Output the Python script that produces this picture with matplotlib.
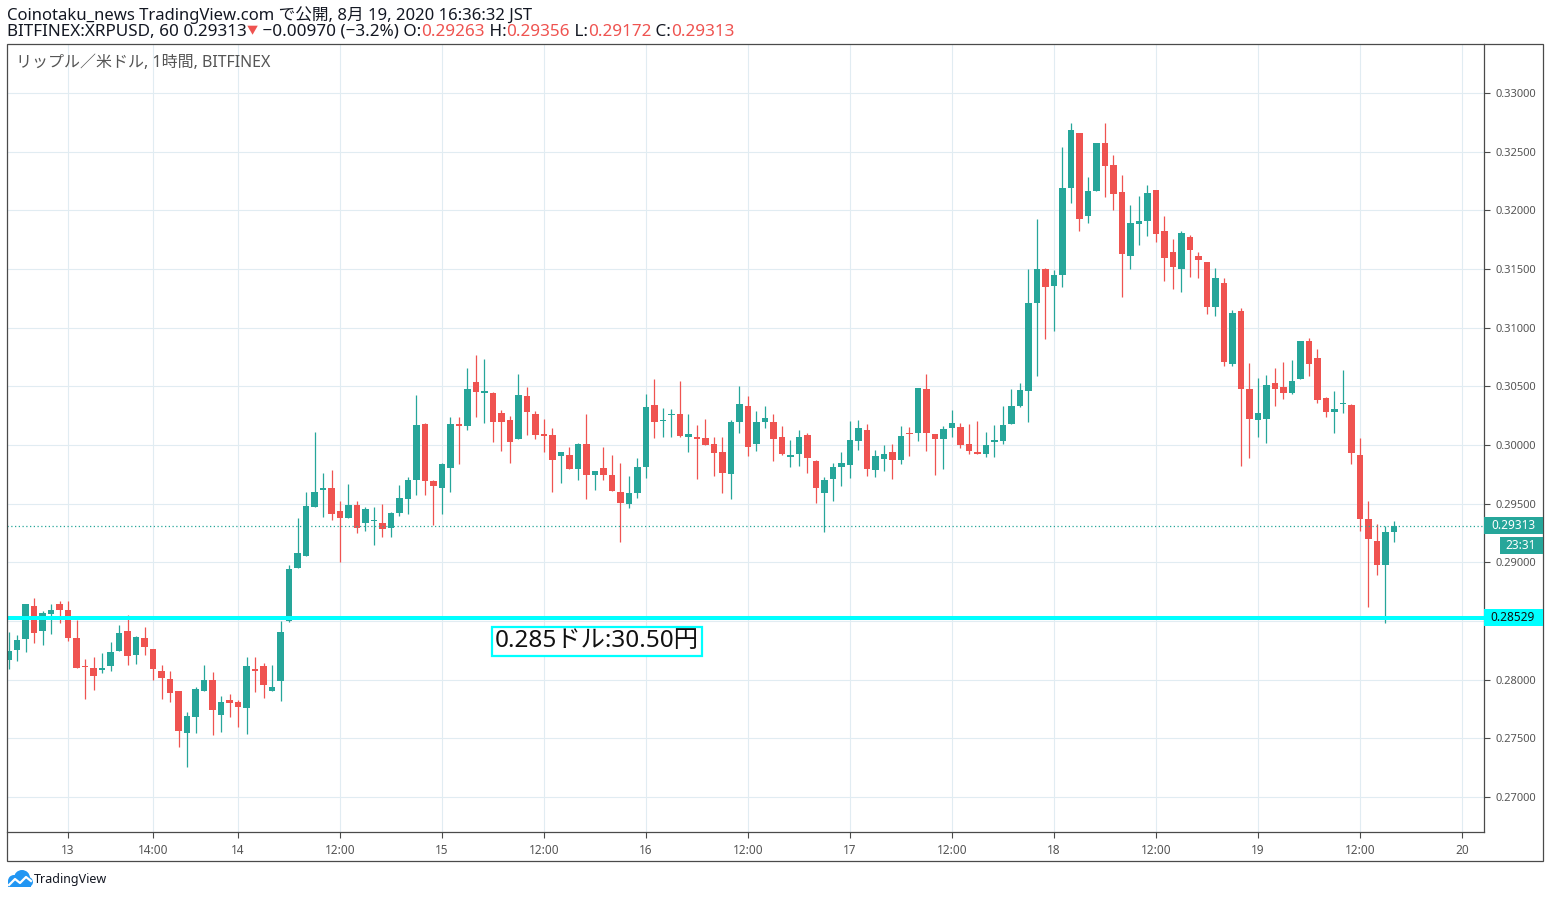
import numpy as np
import matplotlib
matplotlib.use("Agg")
import matplotlib.pyplot as plt
from matplotlib.patches import Rectangle, Circle
from matplotlib.ticker import FuncFormatter
from matplotlib.transforms import blended_transform_factory

plt.rcParams['font.family'] = ['Noto Sans', 'Noto Sans CJK JP', 'DejaVu Sans']

# XRP/USD 1h candles (Bitfinex), hour index 0 = the "13" axis label
first_hour = -7
opens = [
    0.28171, 0.28256, 0.28348, 0.28624, 0.28416, 0.28559, 0.28641, 0.28598, 0.28354, 0.28115,
    0.28101, 0.28079, 0.28121, 0.28247, 0.28413, 0.28213, 0.28354, 0.28261, 0.28076, 0.28008,
    0.27907, 0.27548, 0.27682, 0.27902, 0.28000, 0.27699, 0.27831, 0.27806, 0.27758, 0.28093,
    0.28118, 0.27902, 0.27986, 0.28500, 0.28956, 0.29058, 0.29472, 0.29615, 0.29630, 0.29435,
    0.29379, 0.29486, 0.29337, 0.29356, 0.29334, 0.29294, 0.29421, 0.29539, 0.29698, 0.30177,
    0.29697, 0.29632, 0.29803, 0.30177, 0.30162, 0.30536, 0.30444, 0.30442, 0.30271, 0.30211,
    0.30051, 0.30416, 0.30262, 0.30091, 0.30083, 0.29906, 0.29912, 0.29795, 0.30006, 0.29744,
    0.29801, 0.29741, 0.29604, 0.29496, 0.29590, 0.29812, 0.30345, 0.30202, 0.30254, 0.30268,
    0.30066, 0.30071, 0.30063, 0.30011, 0.29943, 0.29749, 0.30194, 0.30336, 0.30006, 0.30194,
    0.30199, 0.30071, 0.29895, 0.29920, 0.30088, 0.29866, 0.29587, 0.29707, 0.29809, 0.29826,
    0.30031, 0.30131, 0.29784, 0.29878, 0.29943, 0.29869, 0.30099, 0.30099, 0.30480, 0.30097,
    0.30048, 0.30142, 0.30156, 0.30011, 0.29943, 0.29920, 0.30023, 0.30031, 0.30176, 0.30330,
    0.30463, 0.31207, 0.31500, 0.31352, 0.31445, 0.32188, 0.32662, 0.31950, 0.32163, 0.32577,
    0.32390, 0.32160, 0.31610, 0.31882, 0.31908, 0.32177, 0.31820, 0.31641, 0.31499, 0.31777,
    0.31607, 0.31556, 0.31176, 0.31377, 0.30691, 0.31139, 0.30475, 0.30214, 0.30219, 0.30531,
    0.30497, 0.30446, 0.30565, 0.30889, 0.30744, 0.30403, 0.30278, 0.30347, 0.30344, 0.29918,
    0.29372, 0.29185, 0.28974, 0.29263,
]
highs = [
    0.28405, 0.28379, 0.28649, 0.28700, 0.28582, 0.28641, 0.28674, 0.28674, 0.28511, 0.28177,
    0.28194, 0.28228, 0.28320, 0.28464, 0.28548, 0.28371, 0.28447, 0.28261, 0.28126, 0.28076,
    0.27907, 0.27722, 0.27941, 0.28126, 0.28067, 0.27857, 0.27874, 0.27831, 0.28194, 0.28194,
    0.28143, 0.28126, 0.28500, 0.28979, 0.29376, 0.29596, 0.30111, 0.29765, 0.29790, 0.29520,
    0.29672, 0.29520, 0.29475, 0.29469, 0.29494, 0.29427, 0.29663, 0.29731, 0.30425, 0.30185,
    0.29706, 0.29849, 0.30236, 0.30236, 0.30655, 0.30766, 0.30732, 0.30450, 0.30296, 0.30245,
    0.30604, 0.30493, 0.30288, 0.30219, 0.30142, 0.29937, 0.29980, 0.30014, 0.30262, 0.29783,
    0.29980, 0.29912, 0.29843, 0.29732, 0.29886, 0.30433, 0.30567, 0.30319, 0.30311, 0.30550,
    0.30268, 0.30174, 0.30225, 0.30071, 0.30071, 0.30217, 0.30499, 0.30422, 0.30293, 0.30336,
    0.30268, 0.30165, 0.30046, 0.30131, 0.30105, 0.29875, 0.29729, 0.29849, 0.29943, 0.30208,
    0.30217, 0.30182, 0.29960, 0.30003, 0.30011, 0.30165, 0.30156, 0.30489, 0.30608, 0.30097,
    0.30165, 0.30301, 0.30190, 0.30182, 0.30207, 0.30114, 0.30173, 0.30330, 0.30480, 0.30531,
    0.31500, 0.31929, 0.31509, 0.31491, 0.32543, 0.32747, 0.32662, 0.32288, 0.32577, 0.32747,
    0.32475, 0.32305, 0.32049, 0.32126, 0.32219, 0.32177, 0.31956, 0.31760, 0.31820, 0.31794,
    0.31649, 0.31556, 0.31505, 0.31420, 0.31147, 0.31164, 0.30697, 0.30569, 0.30599, 0.30659,
    0.30710, 0.30727, 0.30889, 0.30915, 0.30821, 0.30412, 0.30463, 0.30642, 0.30352, 0.30063,
    0.29526, 0.29330, 0.29310, 0.29356,
]
lows = [
    0.28087, 0.28163, 0.28239, 0.28315, 0.28298, 0.28391, 0.28483, 0.28332, 0.28096, 0.27834,
    0.27910, 0.28053, 0.28070, 0.28247, 0.28129, 0.28138, 0.28213, 0.27994, 0.27834, 0.27809,
    0.27430, 0.27253, 0.27548, 0.27902, 0.27531, 0.27556, 0.27682, 0.27598, 0.27539, 0.27893,
    0.27843, 0.27902, 0.27817, 0.28492, 0.28956, 0.29058, 0.29472, 0.29387, 0.29362, 0.28999,
    0.29379, 0.29252, 0.29269, 0.29151, 0.29218, 0.29218, 0.29396, 0.29413, 0.29573, 0.29573,
    0.29317, 0.29413, 0.29598, 0.29838, 0.30128, 0.30239, 0.30188, 0.30023, 0.29949, 0.29846,
    0.30051, 0.30085, 0.30051, 0.29940, 0.29598, 0.29675, 0.29795, 0.29701, 0.29538, 0.29615,
    0.29701, 0.29607, 0.29171, 0.29462, 0.29547, 0.29718, 0.30057, 0.30066, 0.30066, 0.30066,
    0.29937, 0.29707, 0.29997, 0.29732, 0.29587, 0.29536, 0.30100, 0.29903, 0.29946, 0.30142,
    0.29860, 0.29912, 0.29809, 0.29818, 0.29758, 0.29510, 0.29262, 0.29519, 0.29647, 0.29715,
    0.29955, 0.29733, 0.29724, 0.29776, 0.29710, 0.29835, 0.29903, 0.30031, 0.29946, 0.29741,
    0.29793, 0.30065, 0.29972, 0.29920, 0.29920, 0.29895, 0.29895, 0.30006, 0.30176, 0.30321,
    0.30199, 0.30591, 0.30906, 0.30972, 0.31346, 0.32066, 0.31822, 0.31891, 0.32163, 0.32112,
    0.32001, 0.31261, 0.31499, 0.31703, 0.31780, 0.31729, 0.31397, 0.31329, 0.31303, 0.31431,
    0.31423, 0.31113, 0.31099, 0.30674, 0.30674, 0.29823, 0.29891, 0.30070, 0.30014, 0.30330,
    0.30395, 0.30438, 0.30565, 0.30591, 0.30361, 0.30241, 0.30099, 0.30270, 0.29835, 0.29264,
    0.28616, 0.28889, 0.28480, 0.29172,
]
closes = [
    0.28244, 0.28337, 0.28649, 0.28399, 0.28565, 0.28590, 0.28593, 0.28357, 0.28104, 0.28110,
    0.28028, 0.28101, 0.28236, 0.28396, 0.28205, 0.28362, 0.28281, 0.28087, 0.28011, 0.27885,
    0.27564, 0.27688, 0.27924, 0.28000, 0.27742, 0.27806, 0.27801, 0.27767, 0.28118, 0.28070,
    0.27952, 0.27938, 0.28405, 0.28945, 0.29080, 0.29477, 0.29604, 0.29638, 0.29410, 0.29379,
    0.29486, 0.29294, 0.29452, 0.29362, 0.29286, 0.29418, 0.29545, 0.29706, 0.30168, 0.29692,
    0.29649, 0.29841, 0.30177, 0.30162, 0.30481, 0.30453, 0.30459, 0.30197, 0.30197, 0.30026,
    0.30425, 0.30282, 0.30085, 0.30077, 0.29872, 0.29937, 0.29795, 0.30006, 0.29744, 0.29775,
    0.29744, 0.29607, 0.29504, 0.29595, 0.29809, 0.30322, 0.30194, 0.30208, 0.30268, 0.30074,
    0.30097, 0.30048, 0.29997, 0.29929, 0.29758, 0.30199, 0.30353, 0.29980, 0.30199, 0.30234,
    0.30048, 0.29920, 0.29917, 0.30071, 0.29886, 0.29630, 0.29704, 0.29815, 0.29849, 0.30046,
    0.30148, 0.29793, 0.29909, 0.29926, 0.29869, 0.30080, 0.30091, 0.30489, 0.30099, 0.30048,
    0.30139, 0.30190, 0.29997, 0.29946, 0.29920, 0.30003, 0.30045, 0.30173, 0.30330, 0.30472,
    0.31213, 0.31500, 0.31344, 0.31445, 0.32194, 0.32687, 0.31925, 0.32168, 0.32577, 0.32375,
    0.32137, 0.31627, 0.31896, 0.31913, 0.32151, 0.31797, 0.31593, 0.31516, 0.31803, 0.31661,
    0.31576, 0.31176, 0.31420, 0.30708, 0.31122, 0.30478, 0.30223, 0.30271, 0.30514, 0.30480,
    0.30446, 0.30548, 0.30889, 0.30693, 0.30386, 0.30278, 0.30310, 0.30352, 0.29929, 0.29366,
    0.29196, 0.28974, 0.29261, 0.29313,
]

tick_hours = [0, 10, 20, 32, 44, 56, 68, 80, 92, 104, 116, 128, 140, 152, 164]
tick_labels = ["13", "14:00", "14", "12:00", "15", "12:00", "16", "12:00",
               "17", "12:00", "18", "12:00", "19", "12:00", "20"]
price_ticks = [0.270, 0.275, 0.280, 0.285, 0.290, 0.295, 0.300,
               0.305, 0.310, 0.315, 0.320, 0.325, 0.330]
last_price = 0.29313
support = 0.28529
countdown = "23:31"
note = "0.285ドル:30.50円"
note_hour, note_price = 62.2, 0.28326

header1 = "Coinotaku_news TradingView.com で公開, 8月 19, 2020 16:36:32 JST"
# (text, colour key, font size)
header2 = [("BITFINEX:XRPUSD, 60 0.29313", "k", 12.3), ("▼", "r", 8),
           (" −0.00970 (−3.2%) O:", "k", 12.3), ("0.29263", "r", 12.3),
           (" H:", "k", 12.3), ("0.29356", "r", 12.3), (" L:", "k", 12.3),
           ("0.29172", "r", 12.3), (" C:", "k", 12.3), ("0.29313", "r", 12.3)]
legend_text = "リップル／米ドル, 1時間, BITFINEX"

GREEN = "#26a69a"
RED = "#ef5350"
CYAN = "#00ffff"
GRID = "#e1ecf2"
AXIS = "#4a4a4a"
TEXT = "#131722"

W, H = 1550, 898
fig = plt.figure(figsize=(W / 100, H / 100), dpi=100)
fig.patch.set_facecolor("white")

# outer frame of the widget
fig.add_artist(Rectangle((7 / W, 1 - 861 / H), 1536 / W, 817 / H,
                         transform=fig.transFigure, fill=False, ec=AXIS, lw=0.9))

ax = fig.add_axes([7 / W, 1 - 832 / H, 1477 / W, 788 / H])
ax.set_xlim(-7.18, 166.6)
ax.set_ylim(0.26702, 0.33418)

x = np.arange(len(opens)) + first_hour
o = np.array(opens)
h = np.array(highs)
l = np.array(lows)
c = np.array(closes)
colors = np.where(c >= o, GREEN, RED)

ax.vlines(x, l, h, colors=colors, lw=0.9, zorder=2)
body_low = np.minimum(o, c)
body_h = np.maximum(np.abs(c - o), 0.00009)
ax.bar(x, body_h, bottom=body_low, width=0.78, color=colors, lw=0, zorder=3)

ax.axhline(support, color=CYAN, lw=2.9, zorder=4)
ax.axhline(last_price, color=GREEN, lw=0.9, ls=(0, (1, 2)), zorder=4)

ax.text(note_hour, note_price, note, fontsize=17.5, ha="center", va="center",
        color="#111111", zorder=5,
        bbox=dict(boxstyle="square,pad=0.12", fc="white", ec=CYAN, lw=1.6))

# axes styling
ax.set_xticks(tick_hours)
ax.set_xticklabels(tick_labels)
ax.set_yticks(price_ticks)
# the 0.285 label sits under the support-line badge
ax.yaxis.set_major_formatter(FuncFormatter(
    lambda v, pos: "" if abs(v - support) < 0.001 else f"{v:.5f}"))
ax.yaxis.tick_right()
ax.grid(True, color=GRID, lw=0.8)
ax.set_axisbelow(True)
ax.tick_params(axis="x", direction="out", length=4, width=0.8, color=AXIS,
               labelsize=8.5, labelcolor="#555555", pad=5)
ax.tick_params(axis="y", direction="out", length=4, width=0.8, color=AXIS,
               labelsize=8, labelcolor="#555555", pad=4)
for side in ("top", "left"):
    ax.spines[side].set_visible(False)
for side in ("right", "bottom"):
    ax.spines[side].set_color(AXIS)
    ax.spines[side].set_linewidth(0.9)

# price-axis badges
tr = blended_transform_factory(fig.transFigure, ax.transData)
lab_h = 0.00150
fig.add_artist(Rectangle((1484 / W, last_price - lab_h / 2), 59 / W, lab_h,
                         transform=tr, fc=GREEN, ec="none"))
fig.text(1513 / W, last_price, "0.29313", transform=tr, ha="center", va="center",
         color="white", fontsize=8.5, fontweight="bold")
cd_y = last_price - 0.00168
fig.add_artist(Rectangle((1500 / W, cd_y - lab_h / 2), 43 / W, lab_h,
                         transform=tr, fc=GREEN, ec="none"))
fig.text(1521 / W, cd_y, countdown, transform=tr, ha="center", va="center",
         color="white", fontsize=8.5, fontweight="bold")
fig.add_artist(Rectangle((1484 / W, support - lab_h / 2), 59 / W, lab_h,
                         transform=tr, fc=CYAN, ec="none"))
fig.text(1513 / W, support, "0.28529", transform=tr, ha="center", va="center",
         color="#111111", fontsize=8.5)

# header lines
renderer = fig.canvas.get_renderer()


def text_width(s, size):
    # width including leading/trailing spaces
    probe = fig.text(0, 0, s + "x", fontsize=size)
    ref = fig.text(0, 0, "x", fontsize=size)
    w = probe.get_window_extent(renderer).width - ref.get_window_extent(renderer).width
    probe.remove()
    ref.remove()
    return w


fig.text(7 / W, 1 - 15 / H, header1, fontsize=12, color=TEXT, va="center")
xpos = 7
for s, col, size in header2:
    fig.text(xpos / W, 1 - 32 / H, s, fontsize=size, va="center",
             color=RED if col == "r" else TEXT)
    xpos += text_width(s, size)

fig.text(16 / W, 1 - 63 / H, legend_text, fontsize=11.5, color="#555555", va="center")

# TradingView mark
logo = fig.add_axes([6 / W, 1 - 890 / H, 27 / W, 22 / H])
logo.set_xlim(0, 27)
logo.set_ylim(0, 22)
logo.axis("off")
for cx, cy, r in [(8, 9, 6), (16, 12, 8), (22, 8, 5)]:
    logo.add_patch(Circle((cx, cy), r, fc="#2196f3", ec="none"))
logo.add_patch(Rectangle((2, 3), 23, 6, fc="#2196f3", ec="none"))
logo.plot([3, 9, 14, 20, 25], [5, 11, 7, 13, 9], color="white", lw=1.6)
fig.text(34 / W, 1 - 880 / H, "TradingView", fontsize=9, color=TEXT, va="center")

fig.savefig("out.png", dpi=100)
